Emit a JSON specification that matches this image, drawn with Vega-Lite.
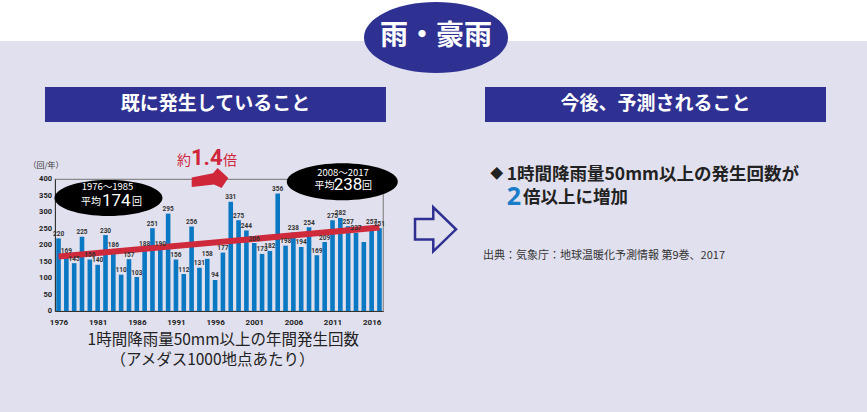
{
  "$schema": "https://vega.github.io/schema/vega-lite/v6.json",
  "width": 328,
  "height": 132,
  "autosize": {"type": "none"},
  "padding": {"left": 55, "top": 179, "right": 484, "bottom": 101},
  "background": "#e1e0ee",
  "config": {
    "view": {"stroke": "#8a8a8a", "strokeWidth": 1.2, "fill": null},
    "text": {"font": "Noto Sans CJK JP"},
    "axis": {"labelOverlap": false}
  },
  "layer": [
    {
      "data": {"name": "bars", "values": [
        {"year": 1976, "count": 220}, {"year": 1977, "count": 169}, {"year": 1978, "count": 145},
        {"year": 1979, "count": 225}, {"year": 1980, "count": 156}, {"year": 1981, "count": 140},
        {"year": 1982, "count": 230}, {"year": 1983, "count": 186}, {"year": 1984, "count": 110},
        {"year": 1985, "count": 157}, {"year": 1986, "count": 103}, {"year": 1987, "count": 188},
        {"year": 1988, "count": 251}, {"year": 1989, "count": 190}, {"year": 1990, "count": 295},
        {"year": 1991, "count": 156}, {"year": 1992, "count": 112}, {"year": 1993, "count": 256},
        {"year": 1994, "count": 131}, {"year": 1995, "count": 158}, {"year": 1996, "count": 94},
        {"year": 1997, "count": 177}, {"year": 1998, "count": 331}, {"year": 1999, "count": 275},
        {"year": 2000, "count": 244}, {"year": 2001, "count": 206}, {"year": 2002, "count": 173},
        {"year": 2003, "count": 182}, {"year": 2004, "count": 356}, {"year": 2005, "count": 198},
        {"year": 2006, "count": 238}, {"year": 2007, "count": 194}, {"year": 2008, "count": 254},
        {"year": 2009, "count": 169}, {"year": 2010, "count": 209}, {"year": 2011, "count": 275},
        {"year": 2012, "count": 282}, {"year": 2013, "count": 257}, {"year": 2014, "count": 237},
        {"year": 2015, "count": 209}, {"year": 2016, "count": 257}, {"year": 2017, "count": 251}
      ]},
      "mark": {"type": "bar", "size": 4.6, "fill": "#0a78c2"},
      "encoding": {
        "x": {"field": "year", "type": "quantitative",
              "scale": {"domain": [1975.55, 2017.45], "nice": false, "zero": false, "padding": 0},
              "axis": {"values": [1976, 1981, 1986, 1991, 1996, 2001, 2006, 2011, 2016], "format": "d", "title": null, "grid": false, "ticks": false, "labelPadding": 7, "labelFont": "Roboto", "labelFontWeight": "bold", "labelFontSize": 8, "labelColor": "#222222", "domainColor": "#333333", "labelFlush": false, "labelOverlap": false}},
        "y": {"field": "count", "type": "quantitative",
              "scale": {"domain": [0, 400], "nice": false, "padding": 0},
              "axis": {"title": null, "grid": false, "ticks": false, "labels": false, "domainColor": "#333333"}}
      }
    },
    {
      "data": {"values": [{"tick": 0}, {"tick": 50}, {"tick": 100}, {"tick": 150}, {"tick": 200}, {"tick": 250}, {"tick": 300}, {"tick": 350}, {"tick": 400}]},
      "mark": {"type": "text", "font": "Roboto", "fontWeight": "bold", "fontSize": 7.5, "fill": "#222222", "align": "right", "baseline": "middle"},
      "encoding": {
        "x": {"datum": 1975.17},
        "y": {"field": "tick", "type": "quantitative"},
        "text": {"field": "tick", "type": "quantitative"}
      }
    },
    {
      "data": {"values": [{}]},
      "mark": {"type": "rect", "fill": "#ffffff"},
      "encoding": {
        "x": {"datum": 1960}, "x2": {"datum": 2090},
        "y": {"datum": 818}, "y2": {"datum": 1000}
      }
    },
    {
      "data": {"values": [{}]},
      "mark": {"type": "rect", "fill": "#2e3192"},
      "encoding": {
        "x": {"datum": 1974.27}, "x2": {"datum": 2017.83},
        "y": {"datum": 678.8}, "y2": {"datum": 572.7}
      }
    },
    {
      "data": {"values": [{}]},
      "mark": {"type": "rect", "fill": "#2e3192"},
      "encoding": {
        "x": {"datum": 2030.48}, "x2": {"datum": 2074.04},
        "y": {"datum": 678.8}, "y2": {"datum": 572.7}
      }
    },
    {
      "data": {"values": [{}]},
      "mark": {"type": "point", "shape": "M-1,0A1,0.493,0,1,1,1,0A1,0.493,0,1,1,-1,0Z", "size": 20736, "filled": true, "fill": "#2e3192", "opacity": 1, "strokeWidth": 0},
      "encoding": {"x": {"datum": 2024.22}, "y": {"datum": 828.8}}
    },
    {
      "data": {"values": [{}]},
      "mark": {"type": "text", "text": "雨・豪雨", "fontSize": 28, "fontWeight": "bold", "fill": "#ffffff", "align": "center", "baseline": "middle"},
      "encoding": {"x": {"datum": 2024.22}, "y": {"datum": 828.8}}
    },
    {
      "data": {"values": [{}]},
      "mark": {"type": "text", "text": "既に発生していること", "fontSize": 19, "fontWeight": "bold", "fill": "#ffffff", "align": "center", "baseline": "middle"},
      "encoding": {"x": {"datum": 1996.05}, "y": {"datum": 625.8}}
    },
    {
      "data": {"values": [{}]},
      "mark": {"type": "text", "text": "今後、予測されること", "fontSize": 19, "fontWeight": "bold", "fill": "#ffffff", "align": "center", "baseline": "middle"},
      "encoding": {"x": {"datum": 2052.26}, "y": {"datum": 625.8}}
    },
    {
      "data": {"values": [{"year": 1976, "trend": 165}, {"year": 2017, "trend": 253}]},
      "mark": {"type": "line", "stroke": "#cf2a3b", "strokeWidth": 6, "strokeCap": "butt"},
      "encoding": {"x": {"field": "year", "type": "quantitative"}, "y": {"field": "trend", "type": "quantitative"}}
    },
    {
      "data": {"name": "bars"},
      "transform": [{"filter": "datum.year != 2015"}],
      "mark": {"type": "text", "font": "Roboto", "fontWeight": "bold", "fontSize": 6.5, "fill": "#333333", "baseline": "alphabetic", "dy": -2.5, "align": "center"},
      "encoding": {
        "x": {"field": "year", "type": "quantitative"},
        "y": {"field": "count", "type": "quantitative"},
        "text": {"field": "count", "type": "quantitative"}
      }
    },
    {
      "data": {"values": [{}]},
      "mark": {"type": "point", "shape": "M-1,0A1,0.333,0,1,1,1,0A1,0.333,0,1,1,-1,0Z", "size": 11664, "filled": true, "fill": "#000000", "opacity": 1, "strokeWidth": 0},
      "encoding": {"x": {"datum": 1982.38}, "y": {"datum": 342.4}}
    },
    {
      "data": {"values": [{}]},
      "mark": {"type": "point", "shape": "M-1,0A1,0.333,0,1,1,1,0A1,0.333,0,1,1,-1,0Z", "size": 12321, "filled": true, "fill": "#000000", "opacity": 1, "strokeWidth": 0},
      "encoding": {"x": {"datum": 2012.25}, "y": {"datum": 391.8}}
    },
    {
      "data": {"values": [{}]},
      "mark": {"type": "text", "text": "1976〜1985", "fontSize": 9.5, "fill": "#ffffff", "align": "center", "baseline": "middle"},
      "encoding": {"x": {"datum": 1982.26}, "y": {"datum": 375.8}}
    },
    {
      "data": {"values": [{}]},
      "mark": {"type": "text", "text": "平均", "fontSize": 10, "fill": "#ffffff", "align": "right", "baseline": "middle"},
      "encoding": {"x": {"datum": 1981.43}, "y": {"datum": 331.2}}
    },
    {
      "data": {"values": [{}]},
      "mark": {"type": "text", "text": "174", "font": "Roboto", "fontSize": 17, "fill": "#ffffff", "align": "center", "baseline": "middle"},
      "encoding": {"x": {"datum": 1983.38}, "y": {"datum": 333.3}}
    },
    {
      "data": {"values": [{}]},
      "mark": {"type": "text", "text": "回", "fontSize": 10, "fill": "#ffffff", "align": "left", "baseline": "middle"},
      "encoding": {"x": {"datum": 1985.39}, "y": {"datum": 331.2}}
    },
    {
      "data": {"values": [{}]},
      "mark": {"type": "text", "text": "2008〜2017", "fontSize": 9.5, "fill": "#ffffff", "align": "center", "baseline": "middle"},
      "encoding": {"x": {"datum": 2012.34}, "y": {"datum": 417.3}}
    },
    {
      "data": {"values": [{}]},
      "mark": {"type": "text", "text": "平均", "fontSize": 10, "fill": "#ffffff", "align": "right", "baseline": "middle"},
      "encoding": {"x": {"datum": 2011.25}, "y": {"datum": 378.8}}
    },
    {
      "data": {"values": [{}]},
      "mark": {"type": "text", "text": "238", "font": "Roboto", "fontSize": 17, "fill": "#ffffff", "align": "center", "baseline": "middle"},
      "encoding": {"x": {"datum": 2012.98}, "y": {"datum": 381}}
    },
    {
      "data": {"values": [{}]},
      "mark": {"type": "text", "text": "回", "fontSize": 10, "fill": "#ffffff", "align": "left", "baseline": "middle"},
      "encoding": {"x": {"datum": 2014.77}, "y": {"datum": 378.8}}
    },
    {
      "data": {"values": [{}]},
      "mark": {"type": "point", "shape": "M-0.915,-0.02L0.15,-0.24L0.38,-0.5L0.915,0.0L0.58,0.5L0.2,0.32L-0.915,0.45Z", "size": 1600, "filled": true, "fill": "#d0263a", "opacity": 1, "strokeWidth": 0},
      "encoding": {"x": {"datum": 1995.35}, "y": {"datum": 403}}
    },
    {
      "data": {"values": [{}]},
      "mark": {"type": "text", "text": "約", "fontSize": 14, "fill": "#d0263a", "align": "right", "baseline": "alphabetic"},
      "encoding": {"x": {"datum": 1992.92}, "y": {"datum": 442}}
    },
    {
      "data": {"values": [{}]},
      "mark": {"type": "text", "text": "1.4", "font": "Roboto", "fontWeight": "bold", "fontSize": 22, "fill": "#d0263a", "align": "center", "baseline": "alphabetic"},
      "encoding": {"x": {"datum": 1994.93}, "y": {"datum": 442.4}}
    },
    {
      "data": {"values": [{}]},
      "mark": {"type": "text", "text": "倍", "fontSize": 14, "fill": "#d0263a", "align": "left", "baseline": "alphabetic"},
      "encoding": {"x": {"datum": 1997.01}, "y": {"datum": 442}}
    },
    {
      "data": {"values": [{}]},
      "mark": {"type": "point", "shape": "M-0.82,-0.41L-0.09,-0.41L-0.09,-0.88L0.82,0L-0.09,0.88L-0.09,0.41L-0.82,0.41Z", "size": 2500, "filled": false, "stroke": "#2e3192", "strokeWidth": 2.5, "opacity": 1},
      "encoding": {"x": {"datum": 2024.16}, "y": {"datum": 247.6}}
    },
    {
      "data": {"values": [{}]},
      "mark": {"type": "text", "text": "◆", "fontSize": 13, "fill": "#222222", "align": "center", "baseline": "middle"},
      "encoding": {"x": {"datum": 2031.99}, "y": {"datum": 415.2}}
    },
    {
      "data": {"values": [{}]},
      "mark": {"type": "text", "text": "1時間降雨量50mm以上の発生回数が", "fontSize": 17.5, "fontWeight": "bold", "fill": "#222222", "align": "left", "baseline": "alphabetic"},
      "encoding": {"x": {"datum": 2033.25}, "y": {"datum": 397}}
    },
    {
      "data": {"values": [{}]},
      "mark": {"type": "text", "text": "2", "font": "Noto Sans", "fontSize": 25, "fontWeight": "bold", "fill": "#1a7cc8", "align": "left", "baseline": "alphabetic"},
      "encoding": {"x": {"datum": 2033.25}, "y": {"datum": 321.2}}
    },
    {
      "data": {"values": [{}]},
      "mark": {"type": "text", "text": "倍以上に増加", "fontSize": 17.5, "fontWeight": "bold", "fill": "#222222", "align": "left", "baseline": "alphabetic"},
      "encoding": {"x": {"datum": 2035.33}, "y": {"datum": 325.8}}
    },
    {
      "data": {"values": [{}]},
      "mark": {"type": "text", "text": "出典：気象庁：地球温暖化予測情報 第9巻、2017", "fontSize": 11, "fill": "#333333", "align": "left", "baseline": "middle"},
      "encoding": {"x": {"datum": 2030.23}, "y": {"datum": 166.7}}
    },
    {
      "data": {"values": [{}]},
      "mark": {"type": "text", "text": "1時間降雨量50mm以上の年間発生回数", "fontSize": 15.5, "fill": "#222222", "align": "center", "baseline": "middle"},
      "encoding": {"x": {"datum": 1997.05}, "y": {"datum": -86.4}}
    },
    {
      "data": {"values": [{}]},
      "mark": {"type": "text", "text": "（アメダス1000地点あたり）", "fontSize": 15.5, "fill": "#222222", "align": "center", "baseline": "middle"},
      "encoding": {"x": {"datum": 1995.67}, "y": {"datum": -148.5}}
    },
    {
      "data": {"values": [{}]},
      "mark": {"type": "text", "text": "（回/年）", "fontSize": 8, "fill": "#333333", "align": "center", "baseline": "middle"},
      "encoding": {"x": {"datum": 1974.4}, "y": {"datum": 439.4}}
    }
  ]
}
